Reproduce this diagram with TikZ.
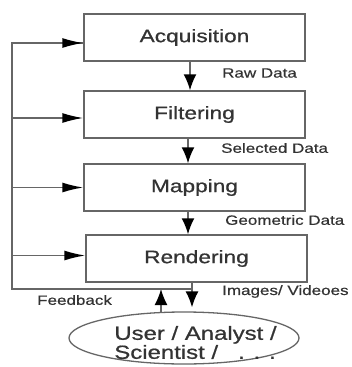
\documentclass[tikz,border=0pt]{standalone}
\usepackage{fontspec}
\setmainfont{Liberation Sans}
\newfontfamily\widefont[FakeStretch=1.26,FakeBold=0.8]{Liberation Sans}
\newfontfamily\smallfont[FakeStretch=1.26,FakeBold=0.5]{Liberation Sans}
\usetikzlibrary{arrows.meta,shapes.geometric}
\definecolor{linegray}{HTML}{666666}
\definecolor{textgray}{HTML}{333333}
\begin{document}
\begin{tikzpicture}[x=1pt,y=-1pt,
  stage/.style={draw=linegray,line width=1.5pt,minimum width=221pt,minimum height=47pt,
    inner sep=0pt,font=\widefont\fontsize{18}{18}\selectfont,text=textgray},
  lbl/.style={anchor=west,inner sep=0pt,font=\smallfont\fontsize{13.5}{14}\selectfont,text=textgray},
  vtip/.tip={Latex[length=16pt,width=13pt,fill=black,color=black]},
  htip/.tip={Latex[length=21pt,width=10pt,fill=black,color=black]},
  flow/.style={draw=linegray,line width=1.5pt,-vtip},
  feed/.style={draw=linegray,line width=1.5pt},
  feedin/.style={feed,-htip}]
\useasboundingbox (0,0) rectangle (351,367);

% pipeline stages
\node[stage] (acq) at (194.5,37.5) {Acquisition};
\node[stage] (fil) at (194.5,114.5) {Filtering};
\node[stage] (map) at (194.5,187.5) {Mapping};
\node[stage] (ren) at (196.5,258.5) {Rendering};

% user
\node[ellipse,draw=linegray,line width=1.3pt,minimum width=230pt,minimum height=52pt,inner sep=0pt] (usr) at (184,338) {};
\node[align=left,inner sep=0pt,font=\widefont\fontsize{19}{19}\selectfont,text=textgray] (usrtxt) at (195.5,342.5) {User / Analyst /\\Scientist /\ \ \ . . .};

% data flow
\draw[flow] ([xshift=-4.5pt]acq.south) -- ([xshift=-4.5pt]fil.north);
\draw[flow] ([xshift=-6.5pt]fil.south) -- ([xshift=-6.5pt]map.north);
\draw[flow] ([xshift=-6.5pt]map.south) -- ([xshift=-8.5pt]ren.north);
\draw[flow] ([xshift=-4.5pt]ren.south) -- ([xshift=8pt,yshift=4pt]usr.north);

% data labels
\node[lbl] (l1) at (222,73) {Raw Data};
\node[lbl] (l2) at (221,148) {Selected Data};
\node[lbl] (l3) at (225,220) {Geometric Data};
\node[lbl] (l4) at (222,291.5) {Images/ Videoes};
\node[lbl] (l5) at (37,300) {Feedback};

% feedback loop
\coordinate (fbcorner) at (12,289);
\coordinate (fbend) at (192,289);
\draw[feed,-vtip] ([xshift=-23pt,yshift=-0.5pt]usr.north) -- ([xshift=-23pt]usr.north |- fbcorner);
\draw[feed] (fbend) -- (fbcorner) |- ([yshift=-5.5pt]acq.west);
\draw[feedin] (fbcorner) |- ([yshift=-5.5pt]acq.west);
\draw[feedin] (fbcorner) |- ([yshift=-3.5pt]fil.west);
\draw[feedin] (fbcorner) |- (map.west);
\draw[feedin] (fbcorner) |- ([yshift=3pt]ren.west);
\end{tikzpicture}
\end{document}
